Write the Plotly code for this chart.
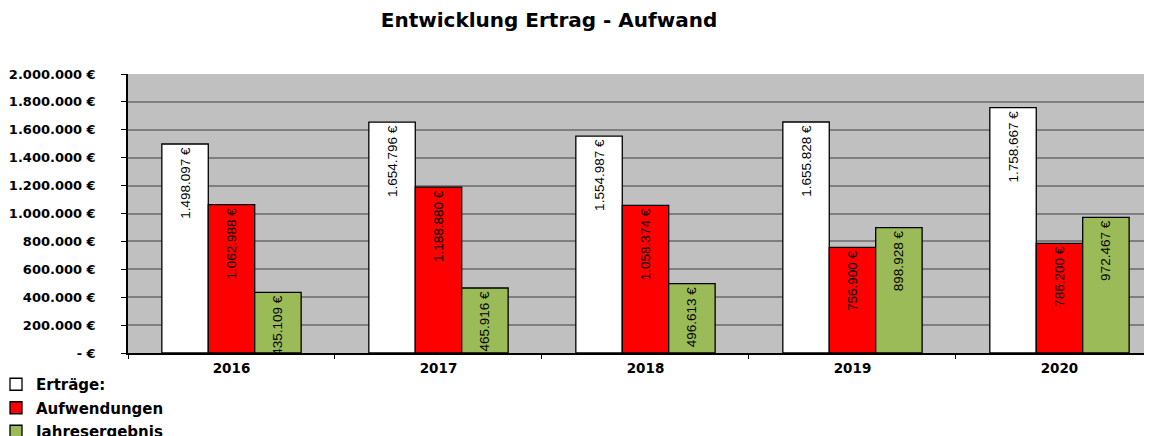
import plotly.graph_objects as go

years = ["2016", "2017", "2018", "2019", "2020"]
ertraege = [1498097, 1654796, 1554987, 1655828, 1758667]
aufwendungen = [1062988, 1188880, 1058374, 756900, 786200]
jahresergebnis = [435109, 465916, 496613, 898928, 972467]

series_names = ["Erträge:", "Aufwendungen", "Jahresergebnis"]
series_colors = ["#FFFFFF", "#FF0000", "#9BBB59"]

y_tickvals = [0, 200000, 400000, 600000, 800000, 1000000, 1200000, 1400000, 1600000, 1800000, 2000000]
y_ticktext = ["- €", "200.000 €", "400.000 €", "600.000 €", "800.000 €", "1.000.000 €",
              "1.200.000 €", "1.400.000 €", "1.600.000 €", "1.800.000 €", "2.000.000 €"]


def de_fmt(v):
    return f"{v:,}".replace(",", ".") + " €"


fig = go.Figure()
for i, (name, vals, col) in enumerate(zip(series_names, [ertraege, aufwendungen, jahresergebnis], series_colors)):
    fig.add_trace(go.Bar(
        x=years, y=vals, name=name, legendgroup=f"g{i}",
        marker=dict(color=col, line=dict(color="#000000", width=1.3)),
        text=[de_fmt(v) for v in vals],
        textposition="inside", insidetextanchor="end", textangle=-90,
        constraintext="none",
        textfont=dict(family="Liberation Sans, Arial", size=13.5, color="#000000"),
        hoverinfo="skip",
    ))

# page body has an 8px margin; figure is sized to fill the rest of the window
W, H = 1144, 428
L, T, B = 120, 66, 83
PW, PH = W - L, H - T - B

fig.update_layout(
    width=W, height=H,
    margin=dict(l=L, r=0, t=T, b=B, autoexpand=False),
    paper_bgcolor="#FFFFFF", plot_bgcolor="#C0C0C0",
    barmode="group", bargap=0.327, bargroupgap=0,
    uniformtext=dict(minsize=13.5, mode="show"),
    title=dict(text="<b>Entwicklung Ertrag - Aufwand</b>", x=541 / W, xref="container", xanchor="center",
               y=1 - 12 / H, yref="container", yanchor="middle", pad=dict(t=0, b=0, l=0, r=0),
               font=dict(family="DejaVu Sans", size=20, color="#000000")),
    legend=dict(x=(-12 - L) / PW, xref="paper", xanchor="left", y=-15 / PH, yref="paper",
                yanchor="top", orientation="v", tracegroupgap=1,
                font=dict(family="DejaVu Sans", size=15, color="#000000", weight="bold"),
                bgcolor="rgba(0,0,0,0)"),
    showlegend=True,
)
fig.update_xaxes(
    type="category", range=[-0.5, 4.447], automargin=False,
    showline=True, linecolor="#000000", linewidth=1.5,
    ticks="outside", tickson="boundaries", ticklen=4, tickcolor="#000000",
    ticklabelstandoff=2,
    tickfont=dict(family="DejaVu Sans", size=13.5, color="#000000", weight="bold"),
    showgrid=False,
)
fig.update_yaxes(
    range=[0, 2000000], tickvals=y_tickvals, ticktext=y_ticktext, automargin=False,
    showline=True, linecolor="#000000", linewidth=1.5,
    ticks="outside", ticklen=5, tickcolor="#000000",
    ticklabelstandoff=23,
    tickfont=dict(family="DejaVu Sans", size=13, color="#000000", weight="bold"),
    showgrid=True, gridcolor="#7F7F7F", gridwidth=1.5,
    zeroline=False,
)

fig.write_html("out.html")
